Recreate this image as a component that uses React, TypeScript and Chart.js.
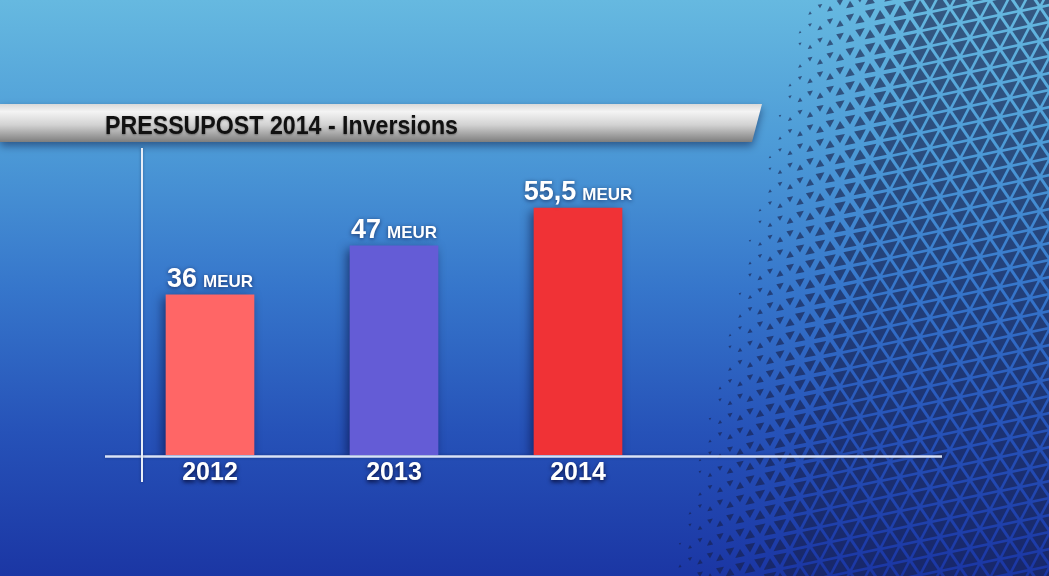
import React, { useEffect, useRef } from "react";
import { Chart, registerables } from "chart.js";

Chart.register(...registerables);

const TITLE = "PRESSUPOST 2014 - Inversions";
const YEARS = ["2012", "2013", "2014"];
const VALUES = [36, 47, 55.5];
const VALUE_TEXT = ["36", "47", "55,5"];
const UNIT = "MEUR";
const BAR_COLORS = ["#ff6666", "#645cd6", "#f03236"];
const Y_MAX = 70;

const W = 1049;
const H = 576;

function drawBackground(ctx: CanvasRenderingContext2D) {
  const g = ctx.createLinearGradient(0, 0, 0, H);
  g.addColorStop(0, "#66b9e0");
  g.addColorStop(0.25, "#4d9bd7");
  g.addColorStop(0.5, "#3676cb");
  g.addColorStop(0.75, "#2652b8");
  g.addColorStop(1, "#1b36a4");
  ctx.fillStyle = g;
  ctx.fillRect(0, 0, W, H);

  // triangle halftone lattice on the right (rows tilted up to the right)
  const tw = 20;
  const th = 17;
  const tilt = 0.2;
  ctx.fillStyle = "rgba(22,30,72,0.62)";
  const P = (x: number, y: number): [number, number] => [x, y - tilt * (x - 650)];
  const tri = (a: [number, number], b: [number, number], c: [number, number]) => {
    const mx = (a[0] + b[0] + c[0]) / 3;
    const my = (a[1] + b[1] + c[1]) / 3;
    if (my < -20 || my > H + 20) return;
    const xb = 793 - 0.23 * my;
    let t = (mx - xb) / 140;
    if (t <= 0) return;
    if (t > 1) t = 1;
    const s = 0.76 * Math.pow(t, 0.75);
    if (s < 0.12) return;
    ctx.beginPath();
    ctx.moveTo(mx + (a[0] - mx) * s, my + (a[1] - my) * s);
    ctx.lineTo(mx + (b[0] - mx) * s, my + (b[1] - my) * s);
    ctx.lineTo(mx + (c[0] - mx) * s, my + (c[1] - my) * s);
    ctx.closePath();
    ctx.fill();
  };
  for (let r = -3; r * th < H + tilt * 420 + th * 2; r++) {
    const y0 = r * th;
    const y1 = y0 + th;
    const off = Math.abs(r) % 2 === 1 ? tw / 2 : 0;
    for (let k = 29; k * tw < W + tw * 2; k++) {
      const x0 = k * tw + off - tw;
      tri(P(x0, y1), P(x0 + tw / 2, y0), P(x0 + tw, y1));
      tri(P(x0 + tw / 2, y0), P(x0 + tw * 1.5, y0), P(x0 + tw, y1));
    }
  }
}

function drawTitleBar(ctx: CanvasRenderingContext2D) {
  ctx.save();
  ctx.shadowColor = "rgba(0,0,40,0.45)";
  ctx.shadowBlur = 8;
  ctx.shadowOffsetY = 4;
  const g = ctx.createLinearGradient(0, 104, 0, 142);
  g.addColorStop(0, "#d8d8d8");
  g.addColorStop(0.2, "#f4f4f4");
  g.addColorStop(0.55, "#d2d2d2");
  g.addColorStop(1, "#7e7e7e");
  ctx.fillStyle = g;
  ctx.beginPath();
  ctx.moveTo(0, 104);
  ctx.lineTo(762, 104);
  ctx.lineTo(752, 142);
  ctx.lineTo(0, 142);
  ctx.closePath();
  ctx.fill();
  ctx.restore();

  ctx.save();
  ctx.font = 'bold 26px "Liberation Sans Narrow", "Liberation Sans", Arial, sans-serif';
  const m = ctx.measureText(TITLE).width;
  const target = 353;
  ctx.translate(105, 127);
  ctx.scale(target / m, 1);
  ctx.textBaseline = "middle";
  ctx.textAlign = "left";
  ctx.shadowColor = "rgba(0,0,0,0.35)";
  ctx.shadowBlur = 2;
  ctx.shadowOffsetY = 1;
  ctx.fillStyle = "#111111";
  ctx.fillText(TITLE, 0, 0);
  ctx.restore();
}

const tvPlugin = {
  id: "tvGraphic",
  beforeDraw(chart: any) {
    const ctx = chart.ctx as CanvasRenderingContext2D;
    ctx.save();
    drawBackground(ctx);
    drawTitleBar(ctx);
    ctx.restore();
  },
  beforeDatasetsDraw(chart: any) {
    const ctx = chart.ctx as CanvasRenderingContext2D;
    const y0 = chart.scales.y.getPixelForValue(0);
    ctx.save();
    ctx.shadowColor = "rgba(0,0,40,0.35)";
    ctx.shadowBlur = 3;
    ctx.strokeStyle = "#d8e2f6";
    ctx.lineWidth = 2.5;
    ctx.beginPath();
    ctx.moveTo(105, y0 + 1.5);
    ctx.lineTo(942, y0 + 1.5);
    ctx.stroke();
    ctx.strokeStyle = "#e8eef8";
    ctx.lineWidth = 2;
    ctx.beginPath();
    ctx.moveTo(142, 148);
    ctx.lineTo(142, 482);
    ctx.stroke();
    ctx.restore();
    ctx.save();
    ctx.shadowColor = "rgba(0,0,40,0.55)";
    ctx.shadowBlur = 10;
    ctx.shadowOffsetX = -3;
    ctx.shadowOffsetY = 3;
  },
  afterDatasetsDraw(chart: any) {
    const ctx = chart.ctx as CanvasRenderingContext2D;
    ctx.restore();
    const meta = chart.getDatasetMeta(0);
    const xScale = chart.scales.x;
    const y0 = chart.scales.y.getPixelForValue(0);
    ctx.save();
    ctx.fillStyle = "#ffffff";
    ctx.shadowColor = "rgba(0,0,40,0.6)";
    ctx.shadowBlur = 4;
    ctx.shadowOffsetY = 1;
    ctx.textBaseline = "alphabetic";
    meta.data.forEach((bar: any, i: number) => {
      const big = 'bold 27px "Liberation Sans", Arial, sans-serif';
      const small = 'bold 17px "Liberation Sans", Arial, sans-serif';
      ctx.font = big;
      const wBig = ctx.measureText(VALUE_TEXT[i]).width;
      ctx.font = small;
      const wSmall = ctx.measureText(UNIT).width;
      const gap = 6;
      const total = wBig + gap + wSmall;
      const left = bar.x - total / 2;
      const base = bar.y - 8;
      ctx.textAlign = "left";
      ctx.font = big;
      ctx.fillText(VALUE_TEXT[i], left, base);
      ctx.font = small;
      ctx.fillText(UNIT, left + wBig + gap, base);
    });
    ctx.font = 'bold 25px "Liberation Sans", Arial, sans-serif';
    ctx.textAlign = "center";
    ctx.textBaseline = "middle";
    ctx.shadowColor = "rgba(0,0,30,0.8)";
    ctx.shadowBlur = 4;
    ctx.shadowOffsetY = 2;
    YEARS.forEach((label, i) => {
      const x = xScale.getPixelForValue(i);
      ctx.fillText(label, x, y0 + 18);
    });
    ctx.restore();
  },
};

export default function App() {
  const ref = useRef<HTMLCanvasElement | null>(null);
  useEffect(() => {
    if (!ref.current) return;
    const chart = new Chart(ref.current, {
      type: "bar",
      data: {
        labels: YEARS,
        datasets: [
          {
            data: VALUES,
            backgroundColor: BAR_COLORS,
            borderWidth: 0,
            barThickness: 88,
          },
        ],
      },
      options: {
        responsive: false,
        animation: false,
        devicePixelRatio: 1,
        layout: { padding: { left: 118, right: 379, top: 143.5, bottom: 121 } },
        plugins: { legend: { display: false }, tooltip: { enabled: false }, title: { display: false } },
        scales: {
          x: { display: false, offset: true },
          y: { display: false, min: 0, max: Y_MAX },
        },
      },
      plugins: [tvPlugin],
    });
    return () => chart.destroy();
  }, []);
  return (
    <div style={{ position: "fixed", left: 0, top: 0, width: W, height: H, overflow: "hidden" }}>
      <canvas ref={ref} width={W} height={H} style={{ display: "block", width: W, height: H }} />
    </div>
  );
}
